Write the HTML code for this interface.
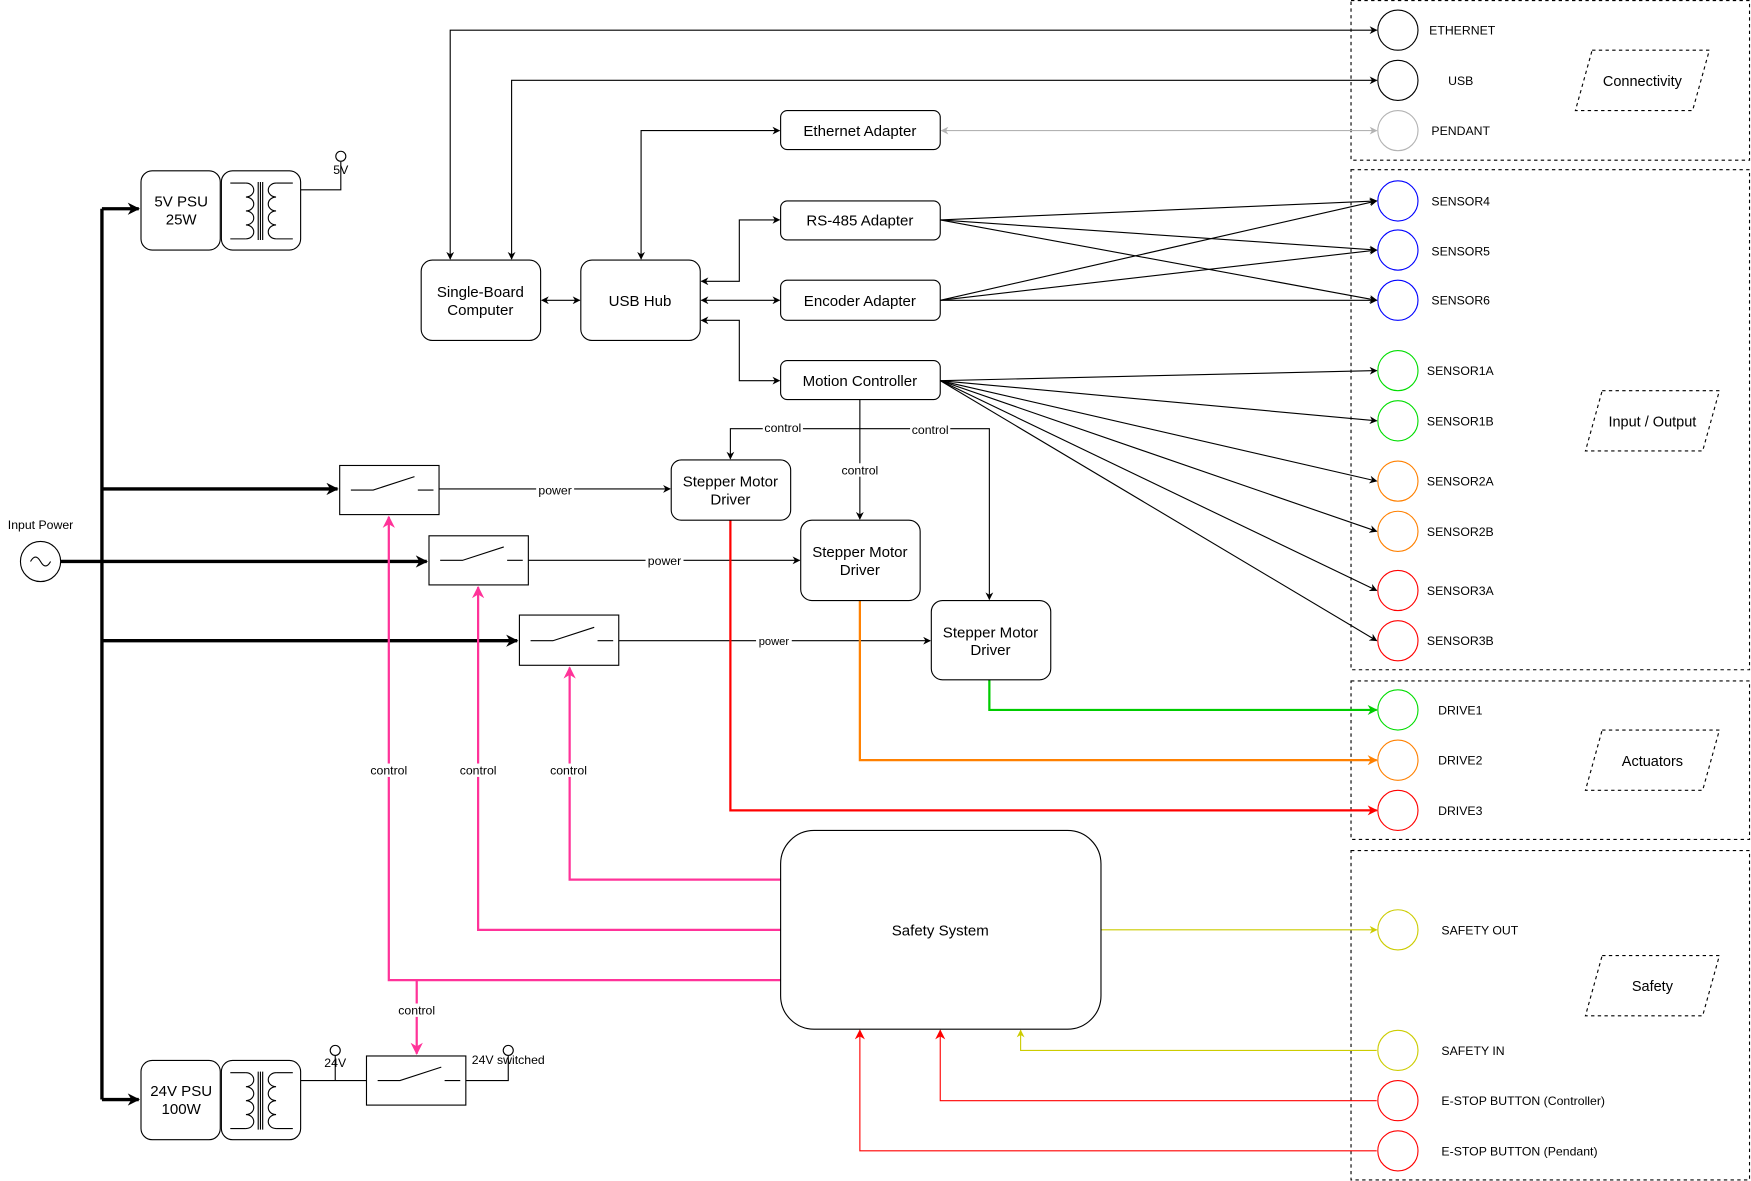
<!DOCTYPE html>
<html><head><meta charset="utf-8"><style>
html,body{margin:0;padding:0;background:#fff;}
svg{display:block;font-family:"Liberation Sans",Arial,sans-serif;}
</style></head><body>
<svg width="1751" height="1181" viewBox="0 0 1568 1058" xmlns="http://www.w3.org/2000/svg">
<defs>
<marker id="ak" viewBox="0 0 10 10" refX="9" refY="5" markerWidth="7" markerHeight="7" markerUnits="userSpaceOnUse" orient="auto-start-reverse"><path d="M0,0 L10,5 L0,10 L3,5z" fill="#000"/></marker>
<marker id="akb" viewBox="0 0 10 10" refX="9" refY="5" markerWidth="11" markerHeight="11" markerUnits="userSpaceOnUse" orient="auto-start-reverse"><path d="M0,0 L10,5 L0,10 L3,5z" fill="#000"/></marker>
<marker id="ag" viewBox="0 0 10 10" refX="9" refY="5" markerWidth="7" markerHeight="7" markerUnits="userSpaceOnUse" orient="auto-start-reverse"><path d="M0,0 L10,5 L0,10 L3,5z" fill="#b3b3b3"/></marker>
<marker id="ap" viewBox="0 0 10 10" refX="9" refY="5" markerWidth="11" markerHeight="11" markerUnits="userSpaceOnUse" orient="auto"><path d="M0,0 L10,5 L0,10 L3,5z" fill="#ff3399"/></marker>
<marker id="ar" viewBox="0 0 10 10" refX="9" refY="5" markerWidth="9" markerHeight="9" markerUnits="userSpaceOnUse" orient="auto"><path d="M0,0 L10,5 L0,10 L3,5z" fill="#ff0000"/></marker>
<marker id="ao" viewBox="0 0 10 10" refX="9" refY="5" markerWidth="9" markerHeight="9" markerUnits="userSpaceOnUse" orient="auto"><path d="M0,0 L10,5 L0,10 L3,5z" fill="#ff8000"/></marker>
<marker id="agr" viewBox="0 0 10 10" refX="9" refY="5" markerWidth="9" markerHeight="9" markerUnits="userSpaceOnUse" orient="auto"><path d="M0,0 L10,5 L0,10 L3,5z" fill="#00cc00"/></marker>
<marker id="ay" viewBox="0 0 10 10" refX="9" refY="5" markerWidth="7" markerHeight="7" markerUnits="userSpaceOnUse" orient="auto"><path d="M0,0 L10,5 L0,10 L3,5z" fill="#cccc00"/></marker>
</defs>

<g fill="none" stroke="#000" stroke-dasharray="3,3" stroke-width="1">
<rect x="1210" y="0.5" width="357" height="143"/>
<rect x="1210" y="152" width="357" height="448"/>
<rect x="1210" y="610" width="357" height="142"/>
<rect x="1210" y="762" width="357" height="295"/>
<path d="M1426,45 H1531 L1516,99 H1411Z"/>
<path d="M1435,350 H1540 L1525,404 H1420Z"/>
<path d="M1435,654 H1540 L1525,708 H1420Z"/>
<path d="M1435,856 H1540 L1525,910 H1420Z"/>
</g>
<g font-size="13" text-anchor="middle">
<text x="1471" y="77">Connectivity</text>
<text x="1480" y="382">Input / Output</text>
<text x="1480" y="686">Actuators</text>
<text x="1480" y="888">Safety</text>
</g>

<g fill="#fff" stroke-width="1">
<circle cx="1252" cy="27" r="18" stroke="#000"/>
<circle cx="1252" cy="72" r="18" stroke="#000"/>
<circle cx="1252" cy="117" r="18" stroke="#b3b3b3"/>
<circle cx="1252" cy="180" r="18" stroke="#0000ff"/>
<circle cx="1252" cy="224" r="18" stroke="#0000ff"/>
<circle cx="1252" cy="269" r="18" stroke="#0000ff"/>
<circle cx="1252" cy="332" r="18" stroke="#00dd00"/>
<circle cx="1252" cy="377" r="18" stroke="#00dd00"/>
<circle cx="1252" cy="431" r="18" stroke="#ff8000"/>
<circle cx="1252" cy="476" r="18" stroke="#ff8000"/>
<circle cx="1252" cy="529" r="18" stroke="#ff0000"/>
<circle cx="1252" cy="574" r="18" stroke="#ff0000"/>
<circle cx="1252" cy="636" r="18" stroke="#00dd00"/>
<circle cx="1252" cy="681" r="18" stroke="#ff8000"/>
<circle cx="1252" cy="726" r="18" stroke="#ff0000"/>
<circle cx="1252" cy="833" r="18" stroke="#cccc00"/>
<circle cx="1252" cy="941" r="18" stroke="#cccc00"/>
<circle cx="1252" cy="986" r="18" stroke="#ff0000"/>
<circle cx="1252" cy="1031" r="18" stroke="#ff0000"/>
</g>
<g font-size="11">
<text x="1280" y="31">ETHERNET</text>
<text x="1297" y="76">USB</text>
<text x="1282" y="121">PENDANT</text>
<text x="1282" y="184">SENSOR4</text>
<text x="1282" y="229">SENSOR5</text>
<text x="1282" y="273">SENSOR6</text>
<text x="1278" y="336">SENSOR1A</text>
<text x="1278" y="381">SENSOR1B</text>
<text x="1278" y="435">SENSOR2A</text>
<text x="1278" y="480">SENSOR2B</text>
<text x="1278" y="533">SENSOR3A</text>
<text x="1278" y="578">SENSOR3B</text>
<text x="1288" y="640">DRIVE1</text>
<text x="1288" y="685">DRIVE2</text>
<text x="1288" y="730">DRIVE3</text>
<text x="1291" y="837">SAFETY OUT</text>
<text x="1291" y="945">SAFETY IN</text>
<text x="1291" y="990">E-STOP BUTTON (Controller)</text>
<text x="1291" y="1035">E-STOP BUTTON (Pendant)</text>
</g>

<g fill="none" stroke="#000" stroke-width="1">
<path d="M1233,27 H403 V232" marker-start="url(#ak)" marker-end="url(#ak)"/>
<path d="M1233,72 H458 V232" marker-start="url(#ak)" marker-end="url(#ak)"/>
<path d="M698,117 H574 V232" marker-start="url(#ak)" marker-end="url(#ak)"/>
<path d="M628,252 H662 V197 H698" marker-start="url(#ak)" marker-end="url(#ak)"/>
<path d="M628,269 H698" marker-start="url(#ak)" marker-end="url(#ak)"/>
<path d="M628,287 H662 V341 H698" marker-start="url(#ak)" marker-end="url(#ak)"/>
<path d="M485,269 H519" marker-start="url(#ak)" marker-end="url(#ak)"/>
<path d="M842,197 L1233,180" marker-end="url(#ak)"/>
<path d="M842,197 L1233,224" marker-end="url(#ak)"/>
<path d="M842,197 L1233,269" marker-end="url(#ak)"/>
<path d="M842,269 L1233,180" marker-end="url(#ak)"/>
<path d="M842,269 L1233,224" marker-end="url(#ak)"/>
<path d="M842,269 L1233,269" marker-end="url(#ak)"/>
<path d="M842,341 L1233,332" marker-end="url(#ak)"/>
<path d="M842,341 L1233,377" marker-end="url(#ak)"/>
<path d="M842,341 L1233,431" marker-end="url(#ak)"/>
<path d="M842,341 L1233,476" marker-end="url(#ak)"/>
<path d="M842,341 L1233,529" marker-end="url(#ak)"/>
<path d="M842,341 L1233,574" marker-end="url(#ak)"/>
<path d="M770,358 V465" marker-end="url(#ak)"/>
<path d="M770,384 H654 V411" marker-end="url(#ak)"/>
<path d="M770,384 H886 V537" marker-end="url(#ak)"/>
<path d="M393,438 H600" marker-end="url(#ak)"/>
<path d="M473,502 H716" marker-end="url(#ak)"/>
<path d="M554,574 H833" marker-end="url(#ak)"/>
<path d="M269,170 H305 V145"/>
<path d="M269,968 H328 M300,968 V946"/>
<path d="M417,968 H455 V946"/>
</g>
<path d="M843,117 H1233" stroke="#b3b3b3" fill="none" marker-start="url(#ag)" marker-end="url(#ag)"/>
<g fill="#fff" stroke="#000">
<circle cx="305" cy="140" r="4.5"/>
<circle cx="300" cy="941" r="4.5"/>
<circle cx="455" cy="941" r="4.5"/>
</g>

<g fill="none" stroke="#000" stroke-width="3">
<path d="M91,187 V985"/>
<path d="M91,187 H124" marker-end="url(#akb)"/>
<path d="M91,985 H124" marker-end="url(#akb)"/>
<path d="M91,438 H302" marker-end="url(#akb)"/>
<path d="M91,574 H463" marker-end="url(#akb)"/>
<path d="M54,503 H382" marker-end="url(#akb)"/>
</g>

<g fill="none" stroke-width="2">
<path d="M654,466 V726 H1233" stroke="#ff0000" marker-end="url(#ar)"/>
<path d="M770,538 V681 H1233" stroke="#ff8000" marker-end="url(#ao)"/>
<path d="M886,609 V636 H1233" stroke="#00cc00" marker-end="url(#agr)"/>
</g>
<g fill="none" stroke="#ff3399" stroke-width="2">
<path d="M699,788 H510 V598" marker-end="url(#ap)"/>
<path d="M699,833 H428 V526" marker-end="url(#ap)"/>
<path d="M699,878 H348 V463" marker-end="url(#ap)"/>
<path d="M373,878 V944" marker-end="url(#ap)"/>
</g>
<g fill="none" stroke-width="1">
<path d="M986,833 H1233" stroke="#cccc00" marker-end="url(#ay)"/>
<path d="M1233,941 H914 V923" stroke="#cccc00" marker-end="url(#ay)"/>
<path d="M1233,986 H842 V923" stroke="#ff0000" marker-end="url(#ar)"/>
<path d="M1233,1031 H770 V923" stroke="#ff0000" marker-end="url(#ar)"/>
</g>

<g fill="#fff" stroke="#000" stroke-width="1">
<rect x="699" y="99" width="143" height="35" rx="6"/>
<rect x="699" y="180" width="143" height="35" rx="6"/>
<rect x="699" y="251" width="143" height="36" rx="6"/>
<rect x="699" y="323" width="143" height="35" rx="6"/>
<rect x="377" y="233" width="107" height="72" rx="10"/>
<rect x="520" y="233" width="107" height="72" rx="10"/>
<rect x="601" y="412" width="107" height="54" rx="9"/>
<rect x="717" y="466" width="107" height="72" rx="10"/>
<rect x="834" y="538" width="107" height="71" rx="10"/>
<rect x="699" y="744" width="287" height="178" rx="30"/>
<rect x="126" y="153" width="71" height="71" rx="10"/>
<rect x="198" y="153" width="71" height="71" rx="10"/>
<rect x="126" y="950" width="71" height="71" rx="10"/>
<rect x="198" y="950" width="71" height="71" rx="10"/>
<rect x="304" y="417" width="89" height="44"/>
<rect x="384" y="480" width="89" height="44"/>
<rect x="465" y="551" width="89" height="45"/>
<rect x="328" y="946" width="89" height="44"/>
<circle cx="36" cy="503" r="18"/>
</g>
<path d="M27,503 q4.5,-8 9,0 t9,0" fill="none" stroke="#000"/>

<g fill="none" stroke="#000" stroke-width="1">
<path d="M314,439 H334 L371,427 M374,439 H388"/>
<path d="M394,502 H414 L451,490 M454,502 H468"/>
<path d="M475,574 H495 L532,562 M535,574 H549"/>
<path d="M338,968 H358 L395,956 M398,968 H412"/>
</g>
<g fill="none" stroke="#000" stroke-width="1">
<g id="tr">
<path d="M206,164 H220 M206,214 H220"/>
<path d="M220,164 a7,6.25 0 0 1 0,12.5 a7,6.25 0 0 1 0,12.5 a7,6.25 0 0 1 0,12.5 a7,6.25 0 0 1 0,12.5"/>
<path d="M231,163 V215 M233,163 V215 M235,163 V215"/>
<path d="M262,164 H247 M262,214 H247"/>
<path d="M247,164 a7,6.25 0 0 0 0,12.5 a7,6.25 0 0 0 0,12.5 a7,6.25 0 0 0 0,12.5 a7,6.25 0 0 0 0,12.5"/>
</g>
<use href="#tr" y="797"/>
</g>

<g font-size="13.5" text-anchor="middle">
<text x="770" y="122">Ethernet Adapter</text>
<text x="770" y="202">RS-485 Adapter</text>
<text x="770" y="274">Encoder Adapter</text>
<text x="770" y="346">Motion Controller</text>
<text x="430" y="266">Single-Board</text>
<text x="430" y="282">Computer</text>
<text x="573" y="274">USB Hub</text>
<text x="654" y="436">Stepper Motor</text>
<text x="654" y="452">Driver</text>
<text x="770" y="499">Stepper Motor</text>
<text x="770" y="515">Driver</text>
<text x="887" y="571">Stepper Motor</text>
<text x="887" y="587">Driver</text>
<text x="842" y="838">Safety System</text>
<text x="162" y="185">5V PSU</text>
<text x="162" y="201">25W</text>
<text x="162" y="982">24V PSU</text>
<text x="162" y="998">100W</text>
</g>
<g font-size="11" text-anchor="middle">
<rect x="480" y="433" width="34" height="12" fill="#fff"/><text x="497" y="443">power</text>
<rect x="578" y="497" width="34" height="12" fill="#fff"/><text x="595" y="506">power</text>
<rect x="677" y="569" width="32" height="11" fill="#fff"/><text x="693" y="578" font-size="10">power</text>
<rect x="683" y="377" width="36" height="12" fill="#fff"/><text x="701" y="387">control</text>
<rect x="815" y="379" width="36" height="12" fill="#fff"/><text x="833" y="389">control</text>
<rect x="752" y="415" width="36" height="12" fill="#fff"/><text x="770" y="425">control</text>
<rect x="330" y="684" width="36" height="12" fill="#fff"/><text x="348" y="694">control</text>
<rect x="410" y="684" width="36" height="12" fill="#fff"/><text x="428" y="694">control</text>
<rect x="491" y="684" width="36" height="12" fill="#fff"/><text x="509" y="694">control</text>
<rect x="355" y="899" width="36" height="12" fill="#fff"/><text x="373" y="909">control</text>
<text x="36" y="474">Input Power</text>
<text x="305" y="156">5V</text>
<text x="300" y="956">24V</text>
<text x="455" y="953">24V switched</text>
</g>
</svg>
</body></html>
